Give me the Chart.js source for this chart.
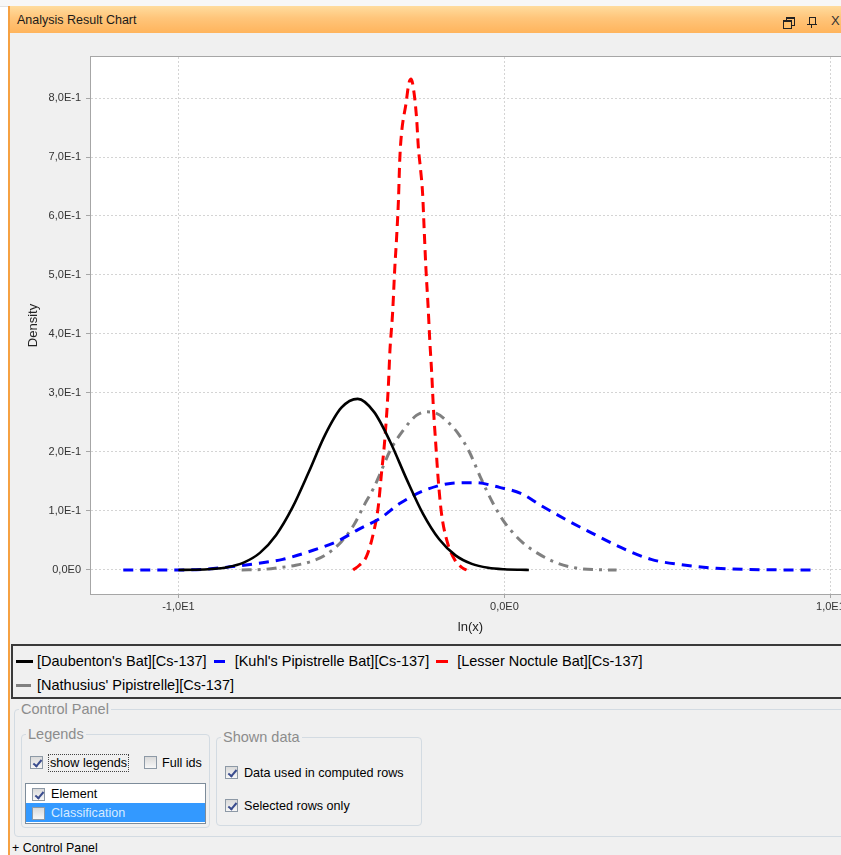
<!DOCTYPE html>
<html>
<head>
<meta charset="utf-8">
<script src="https://cdn.jsdelivr.net/npm/chart.js@4.4.1/dist/chart.umd.min.js"></script>
<style>
  html, body { margin:0; padding:0; width:841px; height:855px; overflow:hidden; background:#ffffff;
    font-family:"Liberation Sans", Arial, sans-serif; color:#000; }
  .abs { position:absolute; }
  #topline { left:0; top:0; width:841px; height:6px; background:#f7f7f7; border-bottom:1px solid #e2e2e2; }
  #win { left:8px; top:6px; width:860px; height:849px; background:#f0f0f0; border-left:2px solid #f6a142; }
  #titlebar { left:10px; top:6px; width:840px; height:27px;
    background:linear-gradient(#ffdc9e 0%, #ffc57a 45%, #ffb45c 100%); border-bottom:1px solid #f0a24c; }
  #title { left:17px; top:12px; font-size:12.5px; line-height:16px; color:#1a1a1a; }
  #chartbox { left:10px; top:33px; width:850px; height:611px; }
  #chart { display:block; width:850px; height:611px; }
  #legendbox { left:11px; top:644px; width:840px; height:48px; border:2px solid #3a3a3a; background:#f0f0f0;
    padding:3px 0 0 0; }
  .litem { display:inline-flex; align-items:center; height:24px; font-size:14.5px; white-space:nowrap; vertical-align:top; }
  .lsw { width:17px; height:24px; position:relative; margin-right:4px; }
  .lsw i { position:absolute; left:0; top:11px; height:3px; }
  .fs { border:1px solid #d3dbe2; border-radius:4px; }
  .fstitle { font-size:14.5px; color:#8c8c8c; background:#f0f0f0; padding:0 2px; line-height:18px; }
  .cb { width:13px; height:13px; border:1px solid #8d99a6; background:linear-gradient(#dadada,#f7f7f7);
    box-sizing:border-box; }
  .cb.on::after { content:""; position:absolute; left:4px; top:1px; width:3px; height:7px;
    border-right:2px solid #3a4c8e; border-bottom:2px solid #3a4c8e; transform:rotate(40deg); }
  .lbl { font-size:12.6px; line-height:16px; white-space:nowrap; }
</style>
</head>
<body>
<div class="abs" id="topline"></div>
<div class="abs" id="win"></div>
<div class="abs" id="titlebar"></div>
<div class="abs" id="title">Analysis Result Chart</div>
<!-- title bar icons -->
<div class="abs" style="left:786px;top:17px;width:7px;height:6px;border:1px solid #222;border-top-width:2px;"></div>
<div class="abs" style="left:783px;top:20px;width:7px;height:6px;border:1px solid #222;border-top-width:2px;background:#ffc06c;"></div>
<div class="abs" style="left:809px;top:17px;width:5px;height:6px;border:1px solid #222;border-top-width:1px;"></div>
<div class="abs" style="left:807px;top:24px;width:10px;height:1px;background:#222;"></div>
<div class="abs" style="left:811px;top:25px;width:1px;height:3px;background:#222;"></div>
<div class="abs" style="left:831px;top:13px;font-size:13px;line-height:16px;color:#333;">X</div>

<div class="abs" id="chartbox"><canvas id="chart" width="850" height="611"></canvas></div>

<div class="abs" id="legendbox"></div>

<!-- Control panel -->
<div class="abs fs" style="left:14px;top:709px;width:840px;height:126px;"></div>
<div class="abs fstitle" style="left:19px;top:700px;">Control Panel</div>

<div class="abs fs" style="left:21px;top:734px;width:187px;height:92px;"></div>
<div class="abs fstitle" style="left:26px;top:725px;">Legends</div>
<div class="abs cb on" style="left:30px;top:756px;"></div>
<div class="abs lbl" style="left:48px;top:754px;border:1px dotted #444;padding:0 1px;">show legends</div>
<div class="abs cb" style="left:144px;top:756px;"></div>
<div class="abs lbl" style="left:162px;top:755px;">Full ids</div>
<div class="abs" style="left:25px;top:783px;width:179px;height:39px;border:1px solid #7d8c9a;background:#fff;"></div>
<div class="abs" style="left:26px;top:803px;width:179px;height:19px;background:#3399ff;"></div>
<div class="abs cb on" style="left:32px;top:788px;"></div>
<div class="abs lbl" style="left:51px;top:786px;">Element</div>
<div class="abs cb" style="left:32px;top:807px;"></div>
<div class="abs lbl" style="left:51px;top:805px;color:#d6ebff;">Classification</div>

<div class="abs fs" style="left:216px;top:737px;width:204px;height:87px;"></div>
<div class="abs fstitle" style="left:221px;top:728px;">Shown data</div>
<div class="abs cb on" style="left:225px;top:766px;"></div>
<div class="abs lbl" style="left:244px;top:765px;">Data used in computed rows</div>
<div class="abs cb on" style="left:225px;top:799px;"></div>
<div class="abs lbl" style="left:244px;top:798px;">Selected rows only</div>

<div class="abs lbl" style="left:12px;top:840px;font-size:12.4px;">+ Control Panel</div>

<script>
// ---------------- data ----------------
const seriesNames = [
  "[Daubenton's Bat][Cs-137]",
  "[Kuhl's Pipistrelle Bat][Cs-137]",
  "[Lesser Noctule Bat][Cs-137]",
  "[Nathusius' Pipistrelle][Cs-137]"
];

const daubentonX = [-10, -9.5, -9, -8.5, -8, -7.5, -7, -6.5, -6, -5.5, -5, -4.5, -4, -3.5, -3, -2.5, -2, -1.5, -1, -0.5, 0, 0.5, 0.75];
const daubentonY = [0.0001, 0.0004, 0.0016, 0.0047, 0.0125, 0.029, 0.0594, 0.106, 0.166, 0.229, 0.275, 0.290, 0.268, 0.217, 0.154, 0.0956, 0.052, 0.0248, 0.0104, 0.0038, 0.0012, 0.0003, 0.0001];

const kuhlX = [-11.69, -9.85, -8.63, -7.6, -6.8, -6.0, -5.15, -4.5, -3.8, -3.2, -2.4, -1.6, -0.9, -0.15, 0.5, 1.1, 1.9, 2.7, 3.5, 4.5, 5.5, 6.5, 7.5, 9.43];
const kuhlY = [0, 0, 0.004, 0.011, 0.018, 0.031, 0.048, 0.068, 0.088, 0.113, 0.136, 0.147, 0.148, 0.140, 0.130, 0.110, 0.085, 0.062, 0.040, 0.018, 0.0085, 0.003, 0.0008, 0];

const noctuleX = [-4.64, -4.45, -4.23, -4.02, -3.87, -3.77, -3.67, -3.56, -3.51, -3.43, -3.36, -3.31, -3.25, -3.21, -3.15, -3.02, -2.93, -2.86, -2.77, -2.69, -2.64, -2.57, -2.51, -2.46, -2.41, -2.34, -2.29, -2.23, -2.18, -2.10, -2.03, -1.93, -1.77, -1.52, -1.30, -1.16];
const noctuleY = [0, 0.008, 0.023, 0.062, 0.107, 0.164, 0.220, 0.311, 0.373, 0.435, 0.514, 0.560, 0.627, 0.695, 0.743, 0.790, 0.825, 0.832, 0.808, 0.763, 0.717, 0.678, 0.639, 0.576, 0.514, 0.446, 0.390, 0.334, 0.277, 0.209, 0.153, 0.096, 0.051, 0.017, 0.004, 0];

const nathusiusX = [-8.06, -7.4, -6.9, -6.4, -5.9, -5.5, -5.0, -4.6, -4.3, -4.0, -3.8, -3.5, -3.1, -2.7, -2.4, -2.1, -1.7, -1.4, -1.1, -0.7, -0.35, -0.05, 0.2, 0.57, 1.0, 1.6, 2.2, 2.8, 3.44];
const nathusiusY = [0, 0.001, 0.004, 0.008, 0.015, 0.025, 0.048, 0.078, 0.110, 0.140, 0.165, 0.203, 0.237, 0.262, 0.268, 0.266, 0.249, 0.230, 0.203, 0.153, 0.113, 0.085, 0.067, 0.046, 0.029, 0.012, 0.0034, 0.0005, 0];

const xTickValues = [-10, 0, 10];
const xTickLabels = ["-1,0E1", "0,0E0", "1,0E1"];
const yTickValues = [0, 0.1, 0.2, 0.3, 0.4, 0.5, 0.6, 0.7, 0.8];
const yTickLabels = ["0,0E0", "1,0E-1", "2,0E-1", "3,0E-1", "4,0E-1", "5,0E-1", "6,0E-1", "7,0E-1", "8,0E-1"];

// ---------------- styles ----------------
const seriesStyles = [
  { color: "#000000", dash: [],            width: 2.6, swatch: 17 },
  { color: "#0000ff", dash: [10, 7],       width: 3,   swatch: 11 },
  { color: "#ff0000", dash: [10, 6],       width: 3,   swatch: 12 },
  { color: "#808080", dash: [10, 6, 3, 6], width: 3,   swatch: 15 }
];
const xs = [daubentonX, kuhlX, noctuleX, nathusiusX];
const ys = [daubentonY, kuhlY, noctuleY, nathusiusY];

const datasets = seriesNames.map((name, i) => ({
  label: name,
  data: xs[i].map((x, k) => ({ x: x, y: ys[i][k] })),
  showLine: true,
  borderColor: seriesStyles[i].color,
  backgroundColor: seriesStyles[i].color,
  borderWidth: seriesStyles[i].width,
  borderDash: seriesStyles[i].dash,
  borderCapStyle: "butt",
  pointRadius: 0,
  pointHoverRadius: 0,
  cubicInterpolationMode: "monotone",
  fill: false
}));

// ---------------- legend (HTML, Swing-style box) ----------------
const legendBox = document.getElementById("legendbox");
seriesNames.forEach((name, i) => {
  const item = document.createElement("span");
  item.className = "litem";
  item.style.marginLeft = i === 0 || i === 3 ? "3px" : "7px";
  const sw = document.createElement("span");
  sw.className = "lsw";
  const ln = document.createElement("i");
  ln.style.width = seriesStyles[i].swatch + "px";
  ln.style.background = seriesStyles[i].color;
  sw.appendChild(ln);
  const tx = document.createElement("span");
  tx.textContent = name;
  item.appendChild(sw);
  item.appendChild(tx);
  legendBox.appendChild(item);
});

// ---------------- plugin: panel background, white plot, frame ----------------
const plotFrame = {
  id: "plotFrame",
  beforeDraw(chart) {
    const { ctx, chartArea: a } = chart;
    ctx.save();
    ctx.fillStyle = "#f0f0f0";
    ctx.fillRect(0, 0, chart.width, chart.height);
    ctx.fillStyle = "#ffffff";
    ctx.fillRect(a.left, a.top, a.right - a.left, a.bottom - a.top);
    ctx.restore();
  },
  afterDraw(chart) {
    const { ctx, chartArea: a } = chart;
    ctx.save();
    ctx.setLineDash([]);
    ctx.strokeStyle = "#a6a6a6";
    ctx.lineWidth = 1;
    ctx.strokeRect(Math.round(a.left) - 0.5, Math.round(a.top) - 0.5,
                   Math.round(a.right - a.left) + 1, Math.round(a.bottom - a.top) + 1);
    ctx.restore();
  }
};

new Chart(document.getElementById("chart"), {
  type: "scatter",
  data: { datasets: datasets },
  plugins: [plotFrame],
  options: {
    responsive: false,
    maintainAspectRatio: false,
    devicePixelRatio: 1,
    animation: false,
    events: [],
    layout: { padding: { top: 24, right: 10, bottom: 0, left: 0 } },
    plugins: { legend: { display: false }, tooltip: { enabled: false } },
    scales: {
      x: {
        type: "linear",
        min: -12.68,
        max: 10.6,
        afterBuildTicks(scale) { scale.ticks = xTickValues.map(v => ({ value: v })); },
        afterFit(scale) { scale.height = 50; },
        ticks: {
          autoSkip: false, maxRotation: 0, padding: 2,
          color: "#333333",
          font: { family: "'Liberation Sans', Arial, sans-serif", size: 11 },
          callback: (v, i) => xTickLabels[i]
        },
        grid: { color: "#d4d4d4", lineWidth: 1, drawTicks: true, tickLength: 4, tickColor: "#a6a6a6", tickBorderDash: [] },
        border: { display: false, dash: [2, 2] },
        title: {
          display: true, text: "ln(x)", color: "#222222",
          font: { family: "'Liberation Sans', Arial, sans-serif", size: 13 },
          padding: { top: 0, bottom: 9 }
        }
      },
      y: {
        type: "linear",
        min: -0.0407,
        max: 0.8695,
        afterBuildTicks(scale) { scale.ticks = yTickValues.map(v => ({ value: v })); },
        afterFit(scale) { scale.width = 81; },
        ticks: {
          padding: 5,
          color: "#333333",
          font: { family: "'Liberation Sans', Arial, sans-serif", size: 11 },
          callback: (v, i) => yTickLabels[i]
        },
        grid: { color: "#d4d4d4", lineWidth: 1, drawTicks: true, tickLength: 5, tickColor: "#a6a6a6", tickBorderDash: [] },
        border: { display: false, dash: [2, 2] },
        title: {
          display: true, text: "Density", color: "#222222",
          font: { family: "'Liberation Sans', Arial, sans-serif", size: 13 },
          padding: { top: 16, bottom: 0 }
        }
      }
    }
  }
});
</script>
</body>
</html>
